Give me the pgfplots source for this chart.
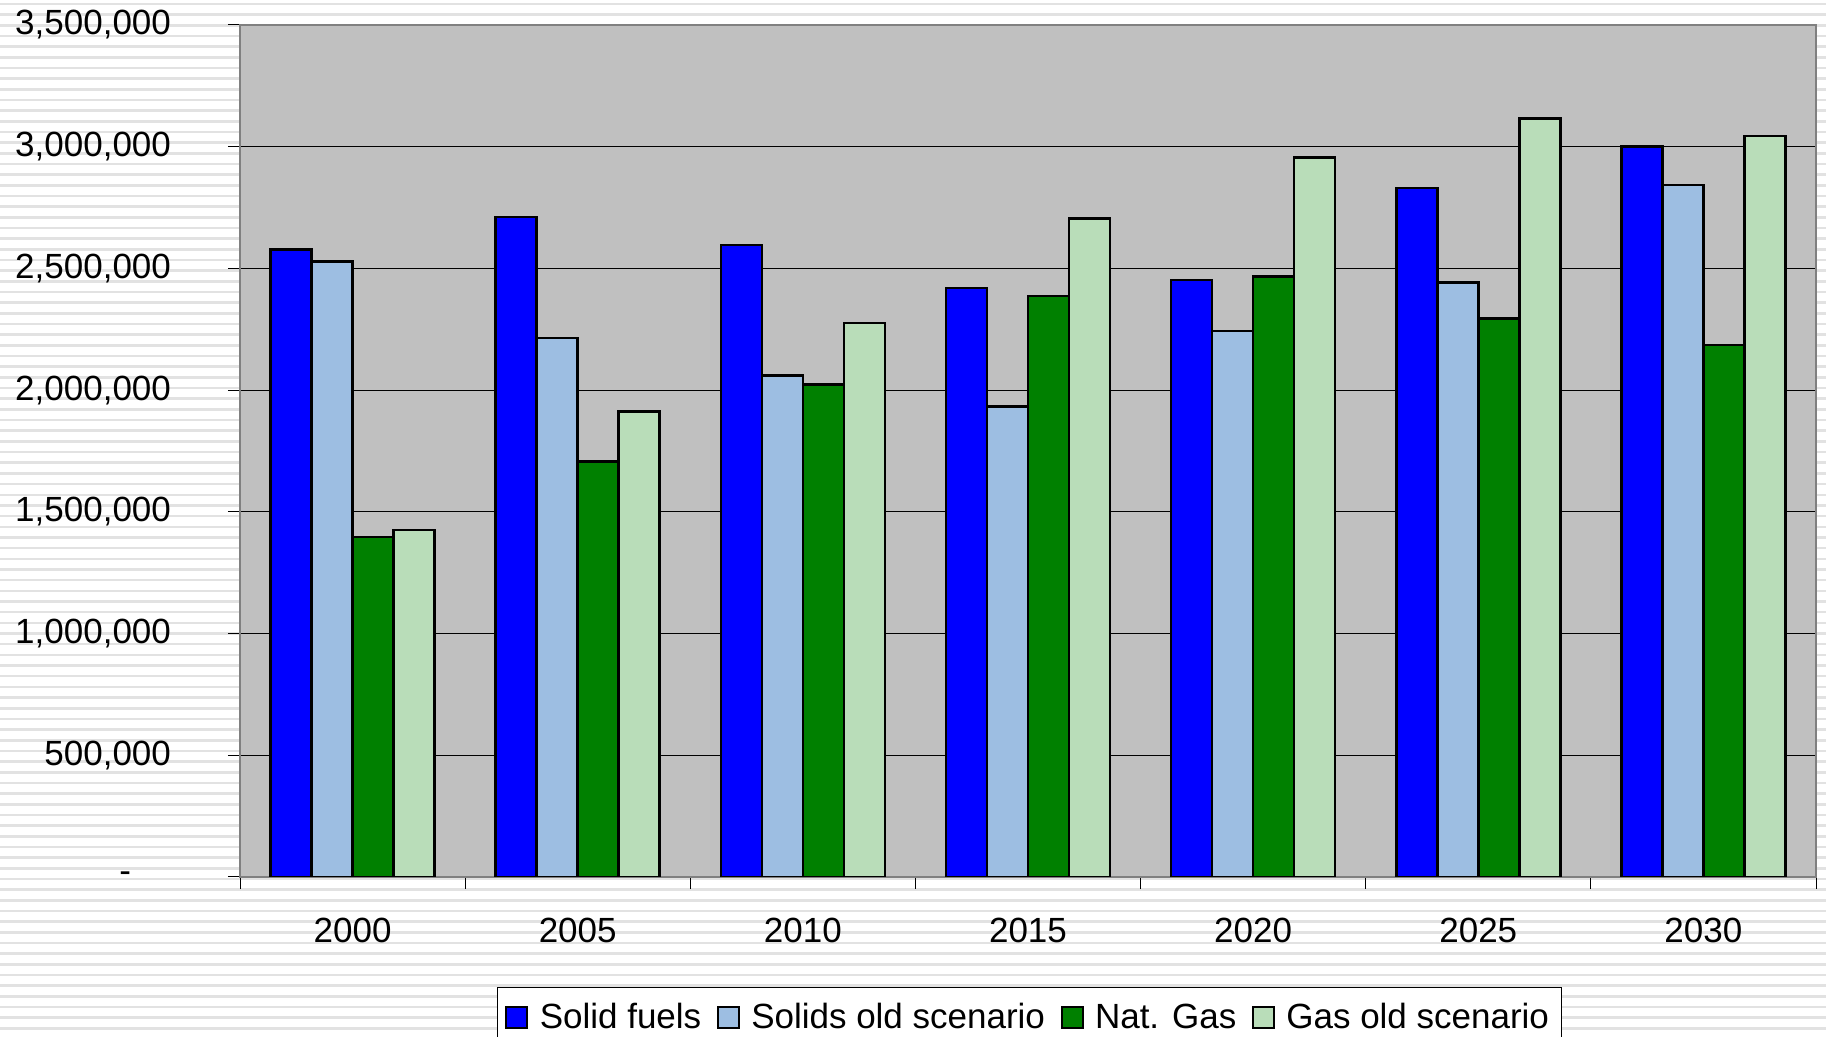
\documentclass[border=0pt]{standalone}
\usepackage{fontspec}
\setmainfont{Liberation Sans}
\usepackage{pgfplots}
\pgfplotsset{compat=1.18}
\definecolor{solidblue}{HTML}{0000FF}
\definecolor{solidold}{HTML}{9DBEE2}
\definecolor{gasgreen}{HTML}{008000}
\definecolor{gasold}{HTML}{B9DDB9}
\definecolor{plotbg}{HTML}{C0C0C0}
\definecolor{stripe}{HTML}{E2E2E2}
\definecolor{framegray}{HTML}{808080}

\begin{document}
\begin{tikzpicture}[x=0.5pt,y=0.5pt]
% canvas in reference pixels (1826 x 1037)
\useasboundingbox (0,0) rectangle (1826,1037);
\fill[white] (0,0) rectangle (1826,1037);
\foreach \k in {0,...,97}
  \draw[stripe, line width=1.3pt] (0,1033-\k*10.67) -- (1826,1033-\k*10.67);

\begin{axis}[
    at={(120pt,80pt)}, anchor=south west,
    scale only axis, width=788pt, height=426pt,
    xmin=-0.5, xmax=6.5, ymin=0, ymax=3500000,
    axis background/.style={fill=plotbg},
    axis line style={framegray, line width=1pt},
    ybar, bar width=0.182,
    xtick={-0.5,0.5,1.5,2.5,3.5,4.5,5.5,6.5},
    x tick label as interval,
    xticklabels={2000,2005,2010,2015,2020,2025,2030},
    ytick={0,500000,1000000,1500000,2000000,2500000,3000000,3500000},
    yticklabels={{-\hspace*{20pt}},{500,000},{1,000,000},{1,500,000},{2,000,000},{2,500,000},{3,000,000},{3,500,000}},
    scaled y ticks=false,
    tick align=outside, tick pos=left,
    major tick length=6pt,
    tick style={black, line width=0.5pt},
    ymajorgrids, grid style={black, line width=0.5pt},
    ticklabel style={font=\fontsize{17.5}{21}\selectfont},
    xticklabel style={yshift=-11pt},
    yticklabel style={xshift=-25pt},
    legend style={at={(0.163,-0.129)}, anchor=north west,
        draw=black, line width=0.5pt, fill=white,
        inner ysep=6pt, inner xsep=4pt,
        font=\fontsize{17.5}{21}\selectfont,
        /tikz/every odd column/.append style={column sep=3.7pt},
        /tikz/every even column/.append style={column sep=5.8pt}},
    legend columns=-1,
    legend image code/.code={\draw[#1, draw=black, line width=1pt] (0pt,-5pt) rectangle (10.5pt,5.5pt);},
]
\addplot[fill=solidblue, draw=black, line width=1.3pt, bar shift=-0.273] coordinates {
    (0,2577000) (1,2711000) (2,2596000) (3,2419000) (4,2453000) (5,2831000) (6,3000000)
};
\addplot[fill=solidold, draw=black, line width=1.3pt, bar shift=-0.091] coordinates {
    (0,2529000) (1,2214000) (2,2061000) (3,1932000) (4,2243000) (5,2443000) (6,2843000)
};
\addplot[fill=gasgreen, draw=black, line width=1.3pt, bar shift=0.091] coordinates {
    (0,1396000) (1,1707000) (2,2022000) (3,2386000) (4,2467000) (5,2295000) (6,2185000)
};
\addplot[fill=gasold, draw=black, line width=1.3pt, bar shift=0.273] coordinates {
    (0,1425000) (1,1913000) (2,2276000) (3,2706000) (4,2955000) (5,3117000) (6,3044000)
};
\legend{Solid fuels, Solids old scenario, Nat. Gas, Gas old scenario}
\end{axis}
\end{tikzpicture}
\end{document}
